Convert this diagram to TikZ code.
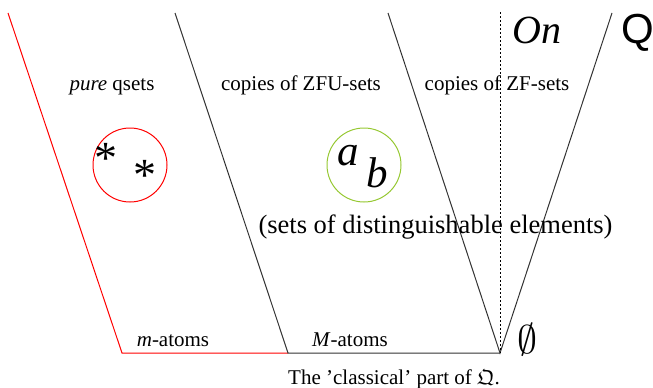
\RequirePackage{fix-cm}
\documentclass[tikz,border=0pt]{standalone}
\usepackage{fontspec}
\usepackage{amssymb}
\setmainfont{Liberation Serif}
\newfontfamily\qsans{Liberation Sans}
\begin{document}
\begin{tikzpicture}[x=1pt,y=-1pt,
  lbl/.style={inner sep=0pt,anchor=base,font=\fontsize{21}{25}\selectfont},
  big/.style={inner sep=0pt,anchor=base,font=\fontsize{40}{46}\selectfont},
  redline/.style={draw=red,line width=1pt},
  blkline/.style={draw=black!80,line width=1pt},
  setcircle/.style={circle,minimum size=74pt,inner sep=0pt,line width=1pt},
  star/.style={inner sep=0pt,font=\fontsize{46}{50}\selectfont}]
\useasboundingbox (0,0) rectangle (653,388);
% corner coordinates
\coordinate (rt) at (8,13);
\coordinate (rb) at (122,353);
\coordinate (lt) at (175,13);
\coordinate (lb) at (288,353);
\coordinate (mt) at (388,13);
\coordinate (vb) at (500,353);
\coordinate (qt) at (612,13);
\coordinate (dt) at (500,12);
% lines
\draw[redline] (rt) -- (rb) -- (lb);
\draw[blkline] (lt) -- (lb) -- (vb);
\draw[blkline] (mt) -- (vb) -- (qt);
\draw[black,line width=0.9pt,dash pattern=on 1.5pt off 2.5pt] (dt) -- (vb);
% circles
\node[setcircle,draw=red] (c1) at (130,165) {};
\node[setcircle,draw={rgb,255:red,150;green,200;blue,50}] (c2) at (364,165) {};
\node[star] (s1) at (106,158) {*};
\node[star] (s2) at (145,175) {*};
\node[big,font=\fontsize{43}{48}\selectfont\itshape] (a) at (348,165) {a};
\node[big,font=\fontsize{43}{48}\selectfont\itshape] (b) at (377,187) {b};
% labels
\node[lbl] (pq) at (112,90) {\textit{pure} qsets};
\node[lbl] (zfu) at (301,90) {copies of ZFU-sets};
\node[lbl] (zf) at (497,90) {copies of ZF-sets};
\node[lbl,font=\fontsize{26.5}{30}\selectfont] (dist) at (435.5,233) {(sets of distinguishable elements)};
\node[lbl] (ma) at (173,346) {\textit{m}-atoms};
\node[lbl] (Ma) at (350,346) {\textit{M}-atoms};
\node[lbl] (cl) at (394,384) {The 'classical' part of $\mathfrak{Q}$.};
\node[big,font=\fontsize{40}{46}\selectfont\itshape] (on) at (537,43) {On};
\node[big,font=\fontsize{42}{46}\selectfont\qsans] (Q) at (638,43) {Q};
\node[big] (es) at (527,353) {$\emptyset$};
\end{tikzpicture}
\end{document}
